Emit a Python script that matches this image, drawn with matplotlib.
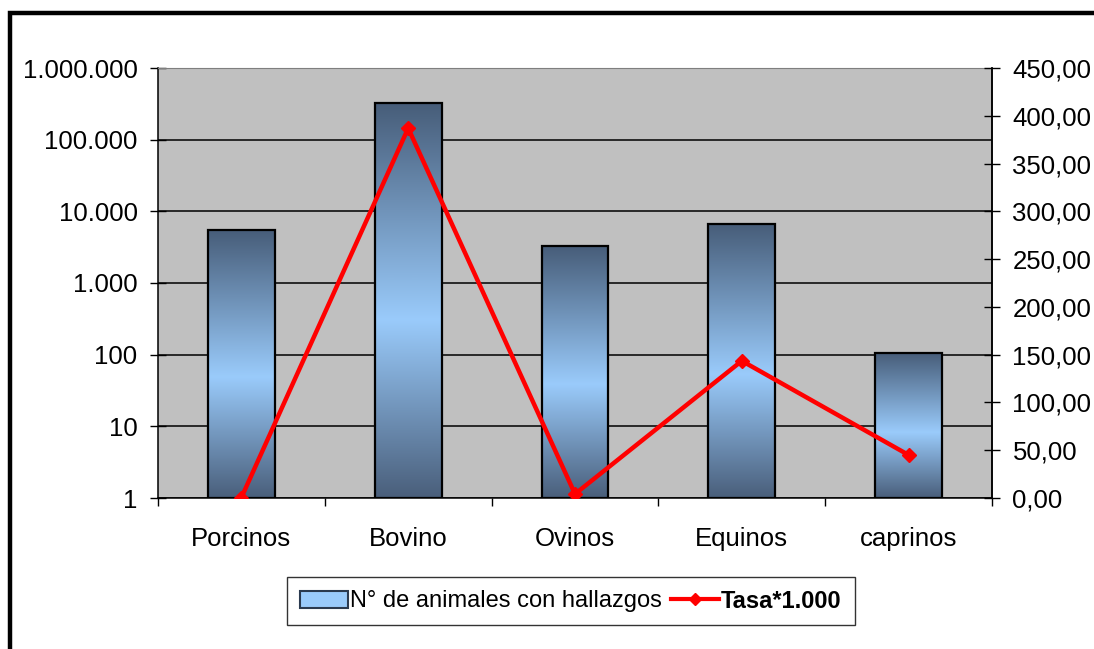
import numpy as np
import matplotlib
matplotlib.use("Agg")
import matplotlib.pyplot as plt
from matplotlib.colors import LinearSegmentedColormap
from matplotlib.ticker import FixedLocator, FuncFormatter, NullLocator
import matplotlib.transforms as mtrans
import matplotlib.patches as mp
from matplotlib.lines import Line2D

plt.rcParams["font.family"] = ["Liberation Sans", "DejaVu Sans"]

# ---- data ----
categories = ["Porcinos", "Bovino", "Ovinos", "Equinos", "caprinos"]
animales = [5500, 322000, 3280, 6650, 106]          # N° de animales con hallazgos (log axis)
tasa = [0.5, 387.0, 4.2, 143.5, 45.0]               # Tasa*1.000 (right axis)
left_ticks = [1, 10, 100, 1000, 10000, 100000, 1000000]
right_ticks = [0, 50, 100, 150, 200, 250, 300, 350, 400, 450]

DARK = "#475d79"
LIGHT = "#9acbfb"
GRAY = "#c0c0c0"
grad = LinearSegmentedColormap.from_list("bar", [(0, "#4a5f7b"), (0.45, LIGHT), (1, DARK)])

fig = plt.figure(figsize=(10.94, 6.49), dpi=100)
ax = fig.add_axes([158 / 1094, 1 - 498 / 649, 834 / 1094, 430 / 649])
ax.set_facecolor(GRAY)
ax.set_yscale("log")
ax.set_ylim(1, 1e6)
ax.set_xlim(-0.5, len(categories) - 0.5)

x = np.arange(len(categories))
bars = ax.bar(x, animales, width=0.4, bottom=1, facecolor="none", edgecolor="black",
              lw=1.6, zorder=3)

# vertical gradient inside each bar: x in data, y in axes fraction
blend = mtrans.blended_transform_factory(ax.transData, ax.transAxes)
g = np.linspace(0, 1, 256).reshape(-1, 1)
for xi, b, v in zip(x, bars, animales):
    top = ax.transAxes.inverted().transform(ax.transData.transform((xi, v)))[1]
    im = ax.imshow(g, cmap=grad, origin="lower", aspect="auto", interpolation="bilinear",
                   extent=(xi - 0.2, xi + 0.2, 0, top), transform=blend, zorder=2)
    im.set_clip_path(b)
ax.set_xlim(-0.5, len(categories) - 0.5)
ax.set_ylim(1, 1e6)

# grid + axes styling
ax.yaxis.set_major_locator(FixedLocator(left_ticks))
ax.yaxis.set_minor_locator(NullLocator())
ax.yaxis.set_major_formatter(FuncFormatter(lambda v, p: f"{int(round(v)):,}".replace(",", ".")))
ax.yaxis.grid(True, color="black", lw=1.1)
ax.set_axisbelow(True)
ax.tick_params(axis="y", direction="inout", length=11.5, width=1, labelsize=18.5, pad=9)
ax.set_xticks(x)
ax.set_xticklabels(categories)
ax.set_xticks(np.arange(len(categories) + 1) - 0.5, minor=True)
ax.tick_params(axis="x", which="major", length=0, labelsize=18.5, pad=21)
ax.tick_params(axis="x", which="minor", direction="out", length=6, width=1)
for s in ["left", "bottom", "right"]:
    ax.spines[s].set_color("black")
    ax.spines[s].set_linewidth(1.1)
ax.spines["top"].set_color("#7f7f7f")

# right axis: rate
ax2 = ax.twinx()
ax2.set_ylim(0, 450)
ax2.yaxis.set_major_locator(FixedLocator(right_ticks))
ax2.yaxis.set_major_formatter(FuncFormatter(lambda v, p: f"{v:.2f}".replace(".", ",")))
ax2.tick_params(axis="y", direction="inout", length=11.5, width=1, labelsize=18.5, pad=9)
ax2.plot(x, tasa, color="#ff0000", lw=3.2, marker="D", ms=7, zorder=5)
for s in ax2.spines.values():
    s.set_visible(False)
ax2.spines["right"].set_visible(True)
ax2.spines["right"].set_linewidth(1.1)

# legend
handles = [mp.Patch(facecolor=LIGHT, edgecolor="#2b3a4f", lw=1.5),
           Line2D([], [], color="#ff0000", lw=3, marker="D", ms=6)]
leg = fig.legend(handles, ["N° de animales con hallazgos", "Tasa*1.000"], loc="center",
                 bbox_to_anchor=(571 / 1094, 1 - 601 / 649), ncol=2, fontsize=17,
                 frameon=True, fancybox=False, edgecolor="black", handlelength=2.0,
                 handletextpad=0.1, columnspacing=0.4, borderpad=0.55)
leg.get_frame().set_linewidth(1.0)
leg.get_texts()[1].set_fontweight("bold")

# outer frame of the chart area (extends past the right/bottom edge)
fig.patches.append(mp.Rectangle((9.5 / 1094, -0.5), 1.5, 1.5 - 12.5 / 649,
                                transform=fig.transFigure, fill=False, edgecolor="black",
                                lw=3.2, clip_on=False))

fig.savefig("out.png", dpi=100)
